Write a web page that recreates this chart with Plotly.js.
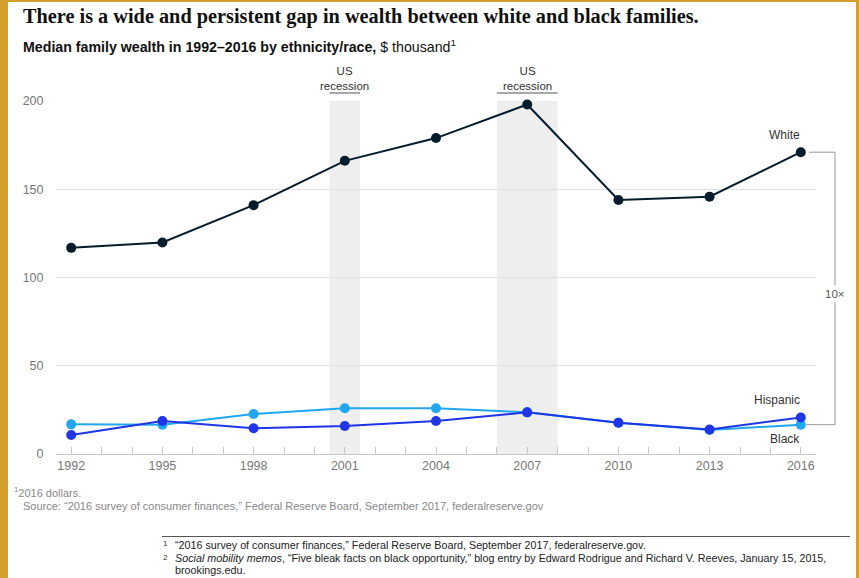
<!DOCTYPE html>
<html>
<head>
<meta charset="utf-8">
<script src="https://cdn.plot.ly/plotly-3.0.1.min.js"></script>
<style>
  html, body { margin: 0; padding: 0; background: #ffffff; }
  #chart { position: absolute; left: 0; top: 0; width: 859px; height: 578px; }
  .gold { position: absolute; background: #d49e2b; }
</style>
</head>
<body>
<div id="chart"></div>
<div class="gold" style="left:0;top:0;width:8px;height:578px;"></div>
<div class="gold" style="left:856px;top:0;width:3px;height:578px;"></div>
<div class="gold" style="left:0;top:0;width:859px;height:2px;"></div>
<script>
// ---- data ----
const years = [1992, 1995, 1998, 2001, 2004, 2007, 2010, 2013, 2016];
const white = [116.8, 119.8, 141.0, 166.1, 179.0, 198.0, 143.9, 145.8, 171.0];
const hispanic = [10.8, 18.7, 14.6, 15.9, 18.7, 23.6, 17.7, 13.9, 20.7];
const black = [16.8, 16.6, 22.7, 25.9, 25.9, 23.6, 17.7, 13.6, 16.6];
const recessions = [[2000.5, 2001.5], [2006, 2008]];
const yTicks = [0, 50, 100, 150, 200];

// ---- layout helpers (pixel -> paper) ----
const L = 56, R = 43, T = 101, B = 124, W = 859, H = 578;
const pw = W - L - R, ph = H - T - B;
const px = p => (p - L) / pw;
const py = p => (H - B - p) / ph;

const FONT = '"Liberation Sans", Arial, Helvetica, sans-serif';
const cWhite = '#051c2c', cHisp = '#1f35e6', cBlack = '#20a7f0';

const mk = (y, name, color) => ({
  x: years, y: y, name: name, type: 'scatter', mode: 'lines+markers',
  line: { color: color, width: 2 },
  marker: { color: color, size: 10 },
  cliponaxis: false, hoverinfo: 'skip'
});

const traces = [mk(black, 'Black', cBlack), mk(hispanic, 'Hispanic', cHisp), mk(white, 'White', cWhite)];

const shapes = [];
recessions.forEach(r => {
  shapes.push({ type: 'rect', xref: 'x', yref: 'paper', x0: r[0], x1: r[1], y0: 0, y1: 1,
    fillcolor: '#eeeeee', line: { width: 0 }, layer: 'below' });
  shapes.push({ type: 'line', xref: 'x', yref: 'paper', x0: r[0], x1: r[1], y0: py(93), y1: py(93),
    line: { color: '#555555', width: 1 } });
});
const last = years.length - 1;
const bx0 = px(809), bx1 = px(835);
shapes.push({ type: 'line', xref: 'paper', yref: 'y', x0: bx0, x1: bx1, y0: white[last], y1: white[last], line: { color: '#999999', width: 1 } });
shapes.push({ type: 'line', xref: 'paper', yref: 'y', x0: bx1, x1: bx1, y0: white[last], y1: black[last], line: { color: '#999999', width: 1 } });
shapes.push({ type: 'line', xref: 'paper', yref: 'y', x0: px(806), x1: bx1, y0: black[last], y1: black[last], line: { color: '#999999', width: 1 } });
shapes.push({ type: 'line', xref: 'paper', yref: 'paper', x0: px(162), x1: px(850), y0: py(536.5), y1: py(536.5),
  line: { color: '#555555', width: 1 } });

const ann = (text, x, y, opts) => Object.assign({
  text: text, xref: 'paper', yref: 'paper', x: px(x), y: py(y), xanchor: 'left', yanchor: 'middle',
  showarrow: false, font: { family: FONT, size: 11, color: '#333333' }
}, opts || {});

const annotations = [
  ann('<b>There is a wide and persistent gap in wealth between white and black families.</b>', 21, 16,
    { font: { family: '"Liberation Serif", "Times New Roman", serif', size: 20.3, color: '#111111' } }),
  ann('<b>Median family wealth in 1992–2016 by ethnicity/race,</b> $ thousand<sup>1</sup>', 21, 46,
    { font: { family: FONT, size: 14.2, color: '#111111' } }),
  { text: 'US<br>recession', xref: 'x', yref: 'paper', x: 2001, y: py(78), xanchor: 'center', yanchor: 'middle',
    showarrow: false, font: { family: FONT, size: 11.5, color: '#333333' } },
  { text: 'US<br>recession', xref: 'x', yref: 'paper', x: 2007, y: py(78), xanchor: 'center', yanchor: 'middle',
    showarrow: false, font: { family: FONT, size: 11.5, color: '#333333' } },
  { text: 'White', xref: 'x', yref: 'y', x: 2016, y: white[last], yshift: 17, xanchor: 'right', xshift: 1, yanchor: 'middle',
    showarrow: false, font: { family: FONT, size: 12, color: '#333333' } },
  { text: 'Hispanic', xref: 'x', yref: 'y', x: 2016, y: hispanic[last], yshift: 17, xanchor: 'right', xshift: 1, yanchor: 'middle',
    showarrow: false, font: { family: FONT, size: 12, color: '#333333' } },
  { text: 'Black', xref: 'x', yref: 'y', x: 2016, y: black[last], yshift: -14, xanchor: 'right', xshift: 1, yanchor: 'middle',
    showarrow: false, font: { family: FONT, size: 12, color: '#333333' } },
  { text: '10×', xref: 'paper', yref: 'paper', x: bx1, y: py(294), xanchor: 'center', yanchor: 'middle',
    showarrow: false, bgcolor: '#ffffff', borderpad: 2, font: { family: FONT, size: 11.5, color: '#555555' } },
  ann('<sup>1</sup>2016 dollars.', 12, 492, { font: { family: FONT, size: 11, color: '#888888' } }),
  ann('Source: “2016 survey of consumer finances,” Federal Reserve Board, September 2017, federalreserve.gov', 21, 506,
    { font: { family: FONT, size: 11, color: '#888888' } }),
  ann('1', 161, 543, { font: { family: FONT, size: 8, color: '#333333' } }),
  ann('“2016 survey of consumer finances,” Federal Reserve Board, September 2017, federalreserve.gov.', 173, 544.5,
    { font: { family: FONT, size: 10.75, color: '#222222' } }),
  ann('2', 161, 557, { font: { family: FONT, size: 8, color: '#333333' } }),
  ann('<i>Social mobility memos</i>, “Five bleak facts on black opportunity,” blog entry by Edward Rodrigue and Richard V. Reeves, January 15, 2015,', 173, 558,
    { font: { family: FONT, size: 10.75, color: '#222222' } }),
  ann('brookings.edu.', 173, 570, { font: { family: FONT, size: 10.75, color: '#222222' } })
];

const layout = {
  width: W, height: H,
  margin: { l: L, r: R, t: T, b: B },
  paper_bgcolor: '#ffffff', plot_bgcolor: 'rgba(0,0,0,0)',
  showlegend: false, hovermode: false,
  xaxis: {
    range: [1991.5, 2016.5], tickvals: years, ticktext: years.map(String),
    ticks: 'inside', ticklen: 7, tickcolor: '#c8c8c8', tickwidth: 1,
    minor: { dtick: 1, tick0: 1992, ticks: 'inside', ticklen: 7, tickcolor: '#c8c8c8', showgrid: false },
    showline: true, linecolor: '#c8c8c8', linewidth: 1, showgrid: false, zeroline: false,
    tickfont: { family: FONT, size: 12.5, color: '#777777' }, fixedrange: true
  },
  yaxis: {
    range: [0, 200], tickvals: yTicks, ticktext: yTicks.map(String),
    ticks: 'outside', ticklen: 9, tickcolor: 'rgba(0,0,0,0)',
    showgrid: true, gridcolor: '#e2e2e2', gridwidth: 1, zeroline: false, showline: false,
    tickfont: { family: FONT, size: 12.5, color: '#777777' }, fixedrange: true
  },
  shapes: shapes,
  annotations: annotations
};

Plotly.newPlot('chart', traces, layout, { displayModeBar: false, staticPlot: true });
</script>
</body>
</html>
